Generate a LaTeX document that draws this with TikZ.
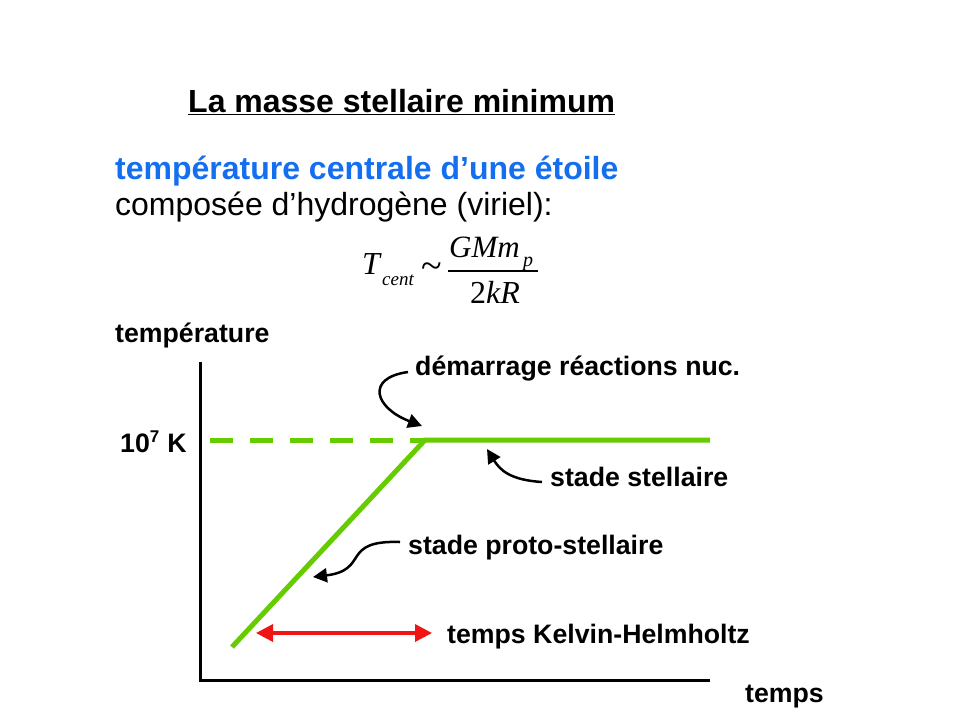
\documentclass[tikz,border=0pt]{standalone}
\usepackage{fontspec}
\setmainfont{Liberation Sans}
\newfontfamily\tms{Liberation Serif}
\usetikzlibrary{arrows.meta}
\definecolor{grn}{RGB}{102,204,0}
\definecolor{blu}{RGB}{20,110,240}
\definecolor{rd}{RGB}{240,20,20}
\begin{document}
\begin{tikzpicture}[x=1pt,y=-1pt,
  lbl/.style={anchor=base west,inner sep=0pt,font=\fontsize{26.7}{30}\selectfont\bfseries},
  big/.style={anchor=base west,inner sep=0pt,font=\fontsize{32}{38}\selectfont},
  mth/.style={anchor=base west,inner sep=0pt,font=\fontsize{31}{36}\selectfont\tms\itshape},
  mths/.style={anchor=base west,inner sep=0pt,font=\fontsize{20}{22}\selectfont\tms\itshape},
  axis/.style={line width=3pt,black},
  grline/.style={line width=5pt,grn},
  callout/.style={line width=2.5pt,black,-{Triangle[length=14pt,width=14pt]}},
  span/.style={line width=3.5pt,rd,{Triangle[length=17pt,width=17pt]}-{Triangle[length=17pt,width=17pt]}}]
\useasboundingbox (0,0) rectangle (960,720);
% titles
\node[big,font=\fontsize{32}{38}\selectfont\bfseries] (title) at (188,112) {\underline{La masse stellaire minimum}};
\node[big,font=\fontsize{32}{38}\selectfont\bfseries,text=blu] (l1) at (115,179) {température centrale d’une étoile};
\node[big] (l2) at (115,215) {composée d’hydrogène (viriel):};
% formula
\node[mth,font=\fontsize{32}{36}\selectfont\tms\itshape] (T) at (362,274) {T};
\node[mths,font=\fontsize{19}{21}\selectfont\tms\itshape] (cent) at (382,285) {cent};
\node[anchor=center,inner sep=0pt,font=\fontsize{38}{40}\selectfont\tms] (sim) at (432,271) {\char"007E};
\node[mth] (num) at (449,257) {GMm};
\node[mths] (p) at (523,266) {p};
\node[mth,font=\fontsize{32}{36}\selectfont\tms] (den) at (470,303) {2\itshape kR};
\coordinate (b1) at (448,271);
\coordinate (b2) at (538,271);
\draw[line width=1.3pt] (b1) -- (b2);
% axes
\coordinate (yt) at (200,362);
\coordinate (o) at (200,680);
\coordinate (xe) at (710,680);
\draw[axis] (yt) -- (200,681.5) ;
\draw[axis] (198.5,680) -- (xe);
\node[lbl] (ty) at (115,342) {température};
\node[lbl] (tx) at (745,702) {temps};
\node[lbl] (k) at (120,452) {10\textsuperscript{\fontsize{17}{18}\selectfont 7} K};
% green curve
\coordinate (ds) at (210,440);
\coordinate (knee) at (425,440);
\coordinate (gend) at (710,440);
\coordinate (gstart) at (232,647);
\draw[grline,dash pattern=on 23pt off 17pt] (ds) -- (knee);
\draw[grline,line join=miter] (gstart) -- (knee) -- (gend);
% labels
\node[lbl] (dem) at (415,375) {démarrage réactions nuc.};
\node[lbl] (ss) at (550,486) {stade stellaire};
\node[lbl] (ps) at (408,554) {stade proto-stellaire};
\node[lbl] (kh) at (447,643) {temps Kelvin-Helmholtz};
% callouts
\coordinate (c1s) at (408,372);
\coordinate (c1e) at (422,426);
\draw[callout] (c1s) .. controls (365,378) and (375,408) .. (c1e);
\coordinate (c2s) at (542,482);
\coordinate (c2e) at (487,449);
\draw[callout] (c2s) .. controls (510,480) and (500,470) .. (c2e);
\coordinate (c3s) at (400,542);
\coordinate (c3e) at (313,577);
\draw[callout] (c3s) .. controls (340,540) and (370,570) .. (c3e);
% KH span
\coordinate (a1) at (256,633);
\coordinate (a2) at (432,633);
\draw[span] (a1) -- (a2);
\end{tikzpicture}
\end{document}
